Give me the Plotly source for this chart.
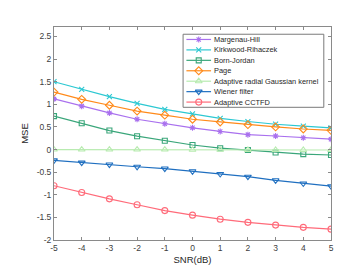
import plotly.graph_objects as go

snr = [-5, -4, -3, -2, -1, 0, 1, 2, 3, 4, 5]
names = ["Margenau-Hill", "Kirkwood-Rihaczek", "Born-Jordan", "Page",
         "Adaptive radial Gaussian kernel", "Wiener filter", "Adaptive CCTFD"]
margenau = [1.12, 0.96, 0.81, 0.67, 0.57, 0.48, 0.40, 0.33, 0.30, 0.26, 0.23]
kirkwood = [1.50, 1.33, 1.17, 1.02, 0.89, 0.79, 0.69, 0.62, 0.56, 0.52, 0.48]
born = [0.74, 0.58, 0.42, 0.295, 0.195, 0.10, 0.03, -0.01, -0.065, -0.10, -0.12]
page = [1.27, 1.11, 0.98, 0.85, 0.76, 0.67, 0.61, 0.55, 0.50, 0.455, 0.425]
radial = [0.0, 0.0, 0.0, 0.0, 0.0, -0.005, -0.005, -0.01, -0.01, -0.01, -0.01]
wiener = [-0.24, -0.29, -0.33, -0.38, -0.42, -0.48, -0.54, -0.60, -0.68, -0.75, -0.81]
cctfd = [-0.80, -0.95, -1.09, -1.22, -1.35, -1.45, -1.54, -1.61, -1.67, -1.72, -1.76]
series = [margenau, kirkwood, born, page, radial, wiener, cctfd]
colors = ["#A970EE", "#2CC8D2", "#3AA67A", "#FF8A1A", "#B8EBB0", "#1F6FC0", "#FF6B7A"]
symbols = ["asterisk-open", "x-thin-open", "square-open", "diamond-open",
           "triangle-up-open", "triangle-down-open", "circle-open"]
sizes = [5, 5, 5, 6, 6, 6, 6]

yticks = [-2, -1.5, -1, -0.5, 0, 0.5, 1, 1.5, 2, 2.5]
xticks = [-5, -4, -3, -2, -1, 0, 1, 2, 3, 4, 5]

fig = go.Figure()
for name, ys, c, s, sz in zip(names, series, colors, symbols, sizes):
    fig.add_trace(go.Scatter(
        x=snr, y=ys, name=name, mode="lines+markers",
        line=dict(color=c, width=1.2),
        marker=dict(symbol=s, size=sz, color=c, line=dict(color=c, width=1.1)),
        showlegend=False))

# Manual legend (compact, like the original) on an overlay axis in [0,1]
lx0, lx1 = 0.466, 0.974
ly0, ly1 = 0.623, 0.966
n = len(names)
step = (ly1 - ly0) / n
sx0, sx1 = lx0 + 0.012, lx0 + 0.101
for i, (name, c, s, sz) in enumerate(zip(names, colors, symbols, sizes)):
    yy = ly1 - step * (i + 0.5)
    fig.add_trace(go.Scatter(
        x=[sx0, (sx0 + sx1) / 2, sx1], y=[yy, yy, yy], mode="lines+markers",
        line=dict(color=c, width=1.2),
        marker=dict(symbol=s, size=sz, color=c, opacity=[0, 1, 0],
                    line=dict(color=c, width=1.1)),
        xaxis="x2", yaxis="y2", showlegend=False, hoverinfo="skip"))
    fig.add_annotation(x=sx1 + 0.004, y=yy, xref="x2", yref="y2", text=name,
                       showarrow=False, xanchor="left", yanchor="middle",
                       font=dict(size=7.4, color="#262626"))
fig.add_shape(type="rect", xref="x2", yref="y2", x0=lx0, x1=lx1, y0=ly0, y1=ly1,
              line=dict(color="#7a7a7a", width=1), fillcolor="rgba(255,255,255,0)",
              layer="above")

axis_common = dict(showline=True, linecolor="#8a8a8a", linewidth=1, mirror="ticks",
                   ticks="inside", ticklen=3, tickcolor="#8a8a8a", showgrid=False,
                   zeroline=False, tickfont=dict(size=8.5, color="#404040"))
fig.update_layout(
    width=357, height=268,
    margin=dict(l=46, r=34, t=19, b=29),
    paper_bgcolor="white", plot_bgcolor="white",
    font=dict(family="Liberation Sans, Arial, sans-serif", color="#404040"),
    xaxis=dict(range=[-5, 5], tickvals=xticks, ticktext=[str(v) for v in xticks],
               title=dict(text="SNR(dB)", font=dict(size=9.5, color="#262626"), standoff=4),
               **axis_common),
    yaxis=dict(range=[-2, 2.71], tickvals=yticks,
               ticktext=[("%g" % v) for v in yticks],
               title=dict(text="MSE", font=dict(size=9.5, color="#262626"), standoff=6),
               **axis_common),
    xaxis2=dict(overlaying="x", range=[0, 1], visible=False, fixedrange=True),
    yaxis2=dict(overlaying="y", range=[0, 1], visible=False, fixedrange=True),
)
fig.write_html("out.html")
